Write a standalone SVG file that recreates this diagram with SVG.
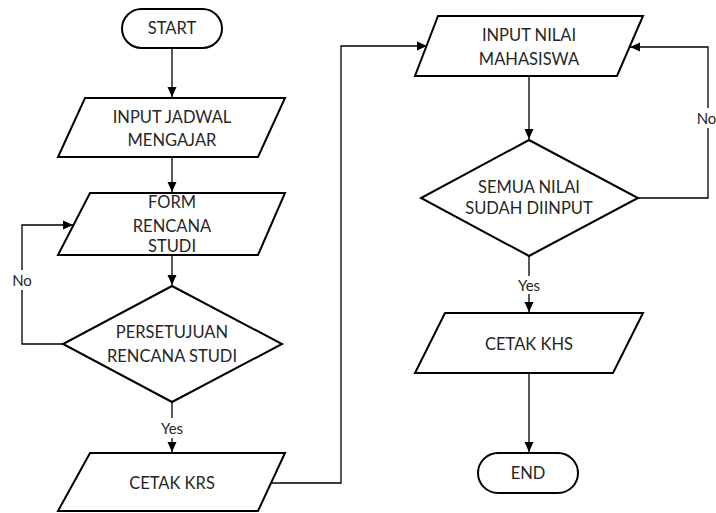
<svg xmlns="http://www.w3.org/2000/svg" width="716" height="513" viewBox="0 0 716 513">
  <style>
    .shape { fill: #ffffff; stroke: #000000; stroke-width: 2; stroke-linejoin: miter; }
    .conn { fill: none; stroke: #000000; stroke-width: 1.3; }
    .label { font-family: Lato, "Liberation Sans", Arial, sans-serif; font-size: 16.5px; fill: #262626; text-anchor: middle; }
    .edge-label { font-family: Lato, "Liberation Sans", Arial, sans-serif; font-size: 15px; fill: #262626; text-anchor: middle; }
  </style>
  <defs>
    <marker id="arrow" markerUnits="userSpaceOnUse" markerWidth="10" markerHeight="10" viewBox="0 0 10 10" refX="10" refY="5" orient="auto">
      <path d="M0,0.5 L10,5 L0,9.5 Z" fill="#000000"/>
    </marker>
  </defs>
  <rect width="716" height="513" fill="#ffffff"/>

  <!-- connectors -->
  <g id="connectors">
    <path class="conn" d="M172,48 V97" marker-end="url(#arrow)"/>
    <path class="conn" d="M172,157 V192" stroke-width="2.2" marker-end="url(#arrow)"/>
    <path class="conn" d="M172,255 V285" marker-end="url(#arrow)"/>
    <path class="conn" d="M63,344 H22 V225 H73" marker-end="url(#arrow)"/>
    <path class="conn" d="M172,402 V452" marker-end="url(#arrow)"/>
    <path class="conn" d="M272,483 H341 V46 H427" marker-end="url(#arrow)"/>
    <path class="conn" d="M529,76 V139" marker-end="url(#arrow)"/>
    <path class="conn" d="M638,198 H708 V47 H630" marker-end="url(#arrow)"/>
    <path class="conn" d="M529,256 V312" marker-end="url(#arrow)"/>
    <path class="conn" d="M529,373 V452" marker-end="url(#arrow)"/>
    <!-- edge labels on white backing -->
    <rect x="10" y="270" width="24" height="20" fill="#ffffff"/>
    <text class="edge-label" x="22" y="285.5" font-size="16">No</text>
    <rect x="158" y="418" width="28" height="20" fill="#ffffff"/>
    <text class="edge-label" x="172" y="434" font-size="16">Yes</text>
    <rect x="697" y="108" width="19" height="20" fill="#ffffff"/>
    <text class="edge-label" x="706.5" y="123.5">No</text>
    <rect x="516" y="276" width="26" height="18" fill="#ffffff"/>
    <text class="edge-label" x="529" y="290.5">Yes</text>
  </g>

  <g id="start">
    <rect class="shape" x="122" y="9" width="100" height="39" rx="19.5" ry="19.5"/>
    <text class="label" x="172" y="34">START</text>
  </g>

  <g id="input-jadwal">
    <polygon class="shape" points="85,98 285,98 258,157 58,157"/>
    <text class="label" x="172" y="123">INPUT JADWAL</text>
    <text class="label" x="172" y="146">MENGAJAR</text>
  </g>

  <g id="form-rencana-studi">
    <polygon class="shape" points="90,193 285,193 258,255 58,255"/>
    <text class="label" x="172" y="208">FORM</text>
    <text class="label" x="172" y="232">RENCANA</text>
    <text class="label" x="172" y="252">STUDI</text>
  </g>

  <g id="persetujuan">
    <polygon class="shape" points="172,286 282,344 172,402 63,344"/>
    <text class="label" x="172" y="338">PERSETUJUAN</text>
    <text class="label" x="172" y="362">RENCANA STUDI</text>
  </g>

  <g id="cetak-krs">
    <polygon class="shape" points="90,453 285,453 258,511 58,511"/>
    <text class="label" x="172" y="489">CETAK KRS</text>
  </g>

  <g id="input-nilai">
    <polygon class="shape" points="438,16 643,16 617,76 415,76"/>
    <text class="label" x="529" y="41">INPUT NILAI</text>
    <text class="label" x="529" y="65">MAHASISWA</text>
  </g>

  <g id="semua-nilai">
    <polygon class="shape" points="529,140 638,198 529,256 421,198"/>
    <text class="label" x="529" y="193">SEMUA NILAI</text>
    <text class="label" x="529" y="214">SUDAH DIINPUT</text>
  </g>

  <g id="cetak-khs">
    <polygon class="shape" points="445,313 643,313 613,373 415,373"/>
    <text class="label" x="529" y="350">CETAK KHS</text>
  </g>

  <g id="end">
    <rect class="shape" x="478" y="453" width="100" height="40" rx="20" ry="20"/>
    <text class="label" x="528" y="479">END</text>
  </g>
</svg>
